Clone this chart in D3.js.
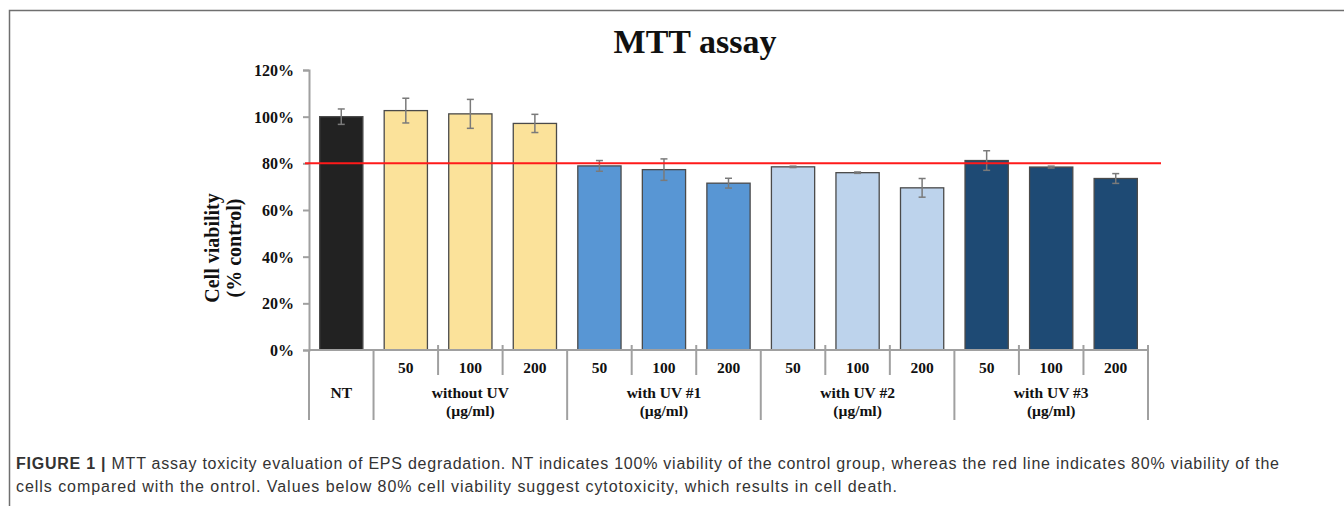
<!DOCTYPE html>
<html lang="en">
<head>
    <meta charset="UTF-8">
    <title>MTT assay</title>
    <script src="https://d3js.org/d3.v7.min.js"></script>
    <style>
        html, body { margin: 0; padding: 0; background: #fff; }
        svg { display: block; }
        .tick-label { font-family: "Liberation Serif", serif; font-weight: bold; font-size: 16px; fill: #111; }
        .caption { font-family: "Liberation Sans", Arial, sans-serif; font-size: 16px; fill: #333; }
    </style>
</head>
<body>
<svg id="chart" width="1344" height="506"></svg>
<script>
    // data
    const categories = ["NT", "wo50", "wo100", "wo200", "u1_50", "u1_100", "u1_200",
                        "u2_50", "u2_100", "u2_200", "u3_50", "u3_100", "u3_200"];
    const doseLabels = ["", "50", "100", "200", "50", "100", "200", "50", "100", "200", "50", "100", "200"];
    const viability = [100, 102.6, 101.2, 97.1, 78.9, 77.3, 71.5, 78.5, 76.0, 69.5, 81.2, 78.4, 73.5];
    const errors = [3.3, 5.3, 6.2, 3.9, 2.3, 4.6, 2.1, 0.3, 0.3, 4.0, 4.2, 0.4, 2.1];
    const groups = [
        {name: "NT", sub: null, start: 0, end: 0, color: "#222222"},
        {name: "without UV", sub: "(\u00b5g/ml)", start: 1, end: 3, color: "#fbe29a"},
        {name: "with UV #1", sub: "(\u00b5g/ml)", start: 4, end: 6, color: "#5896d4"},
        {name: "with UV #2", sub: "(\u00b5g/ml)", start: 7, end: 9, color: "#bdd3ec"},
        {name: "with UV #3", sub: "(\u00b5g/ml)", start: 10, end: 12, color: "#1e4a74"}
    ];
    const yTicks = [0, 20, 40, 60, 80, 100, 120];
    const threshold = 80;

    const svg = d3.select("#chart");

    // figure frame
    svg.append("path")
        .attr("d", "M9.5,506 L9.5,10.5 L1344,10.5")
        .attr("fill", "none")
        .attr("stroke", "#6f6f6f")
        .attr("stroke-width", 1.5);

    const plotLeft = 309, plotRight = 1148, plotTop = 70, plotBottom = 350;

    const x = d3.scaleBand().domain(categories).range([plotLeft, plotRight]).paddingInner(0.33).paddingOuter(0.165);
    const y = d3.scaleLinear().domain([0, 120]).range([plotBottom, plotTop]);
    const step = x.step();

    function groupColor(i) {
        return groups.find(g => i >= g.start && i <= g.end).color;
    }

    // title
    svg.append("text")
        .attr("x", 695).attr("y", 53)
        .attr("text-anchor", "middle")
        .style("font-family", "Liberation Serif, serif")
        .style("font-weight", "bold")
        .style("font-size", "34px")
        .attr("fill", "#111")
        .text("MTT assay");

    // y axis
    const yAxis = svg.append("g")
        .attr("transform", `translate(${plotLeft},0)`)
        .call(d3.axisLeft(y).tickValues(yTicks).tickSize(6).tickFormat(d => d + "%"));
    yAxis.attr("font-family", null).attr("font-size", null);
    yAxis.select(".domain").attr("stroke", "#a0a0a0").attr("stroke-width", 2);
    yAxis.selectAll(".tick line").attr("stroke", "#a0a0a0").attr("stroke-width", 2);
    yAxis.selectAll(".tick text")
        .attr("class", "tick-label")
        .attr("x", -15)
        .attr("dy", "0.35em");

    // y axis title
    const yTitle = svg.append("text")
        .attr("transform", `translate(219,248) rotate(-90)`)
        .attr("text-anchor", "middle")
        .style("font-family", "Liberation Serif, serif")
        .style("font-weight", "bold")
        .style("font-size", "20px")
        .attr("fill", "#111");
    yTitle.append("tspan").attr("x", 0).attr("dy", 0).text("Cell viability");
    yTitle.append("tspan").attr("x", 0).attr("dy", 22).text("(% control)");

    // bars
    svg.append("g")
        .selectAll("rect")
        .data(categories)
        .join("rect")
        .attr("x", d => x(d))
        .attr("width", x.bandwidth())
        .attr("y", (d, i) => y(viability[i]))
        .attr("height", (d, i) => y(0) - y(viability[i]))
        .attr("fill", (d, i) => groupColor(i))
        .attr("stroke", "#4a4a4a")
        .attr("stroke-width", 1.3);

    // error bars
    const eb = svg.append("g").attr("stroke", "#7a7a7a").attr("stroke-width", 1.5);
    categories.forEach((c, i) => {
        const cx = x(c) + x.bandwidth() / 2;
        const y1 = y(viability[i] + errors[i]);
        const y2 = y(viability[i] - errors[i]);
        eb.append("line").attr("x1", cx).attr("x2", cx).attr("y1", y1).attr("y2", y2);
        eb.append("line").attr("x1", cx - 3.5).attr("x2", cx + 3.5).attr("y1", y1).attr("y2", y1);
        eb.append("line").attr("x1", cx - 3.5).attr("x2", cx + 3.5).attr("y1", y2).attr("y2", y2);
    });

    // 80% threshold line
    svg.append("line")
        .attr("x1", plotLeft - 4).attr("x2", 1161)
        .attr("y1", y(threshold)).attr("y2", y(threshold))
        .attr("stroke", "#ff1a1a")
        .attr("stroke-width", 2);

    // x axis (multi-level)
    const xa = svg.append("g").attr("stroke", "#a0a0a0").attr("stroke-width", 2);
    xa.append("line").attr("x1", plotLeft).attr("x2", plotRight).attr("y1", plotBottom).attr("y2", plotBottom);
    categories.forEach((c, i) => {
        const bx = plotLeft + i * step;
        const isGroupEdge = groups.some(g => g.start === i);
        xa.append("line")
            .attr("x1", bx).attr("x2", bx)
            .attr("y1", isGroupEdge ? plotBottom : plotBottom - 5)
            .attr("y2", isGroupEdge ? 420 : 375);
    });
    xa.append("line").attr("x1", plotRight).attr("x2", plotRight).attr("y1", plotBottom - 5).attr("y2", 420);

    // dose labels
    svg.append("g")
        .selectAll("text")
        .data(categories)
        .join("text")
        .attr("class", "tick-label")
        .attr("x", d => x(d) + x.bandwidth() / 2)
        .attr("y", 373)
        .attr("text-anchor", "middle")
        .style("font-size", "15.5px")
        .text((d, i) => doseLabels[i]);

    // group labels
    groups.forEach(g => {
        const cx = (plotLeft + g.start * step + plotLeft + (g.end + 1) * step) / 2;
        svg.append("text")
            .attr("class", "tick-label")
            .attr("x", cx).attr("y", 398)
            .attr("text-anchor", "middle")
            .style("font-size", "15.5px")
            .text(g.name);
        if (g.sub) {
            svg.append("text")
                .attr("class", "tick-label")
                .attr("x", cx).attr("y", 416)
                .attr("text-anchor", "middle")
                .style("font-size", "15.5px")
                .text(g.sub);
        }
    });

    // caption
    const cap1 = svg.append("text").attr("class", "caption").attr("x", 16).attr("y", 469)
        .attr("textLength", 1263).attr("lengthAdjust", "spacing");
    cap1.append("tspan").style("font-weight", "bold").text("FIGURE 1 | ");
    cap1.append("tspan").text("MTT assay toxicity evaluation of EPS degradation. NT indicates 100% viability of the control group, whereas the red line indicates 80% viability of the");
    svg.append("text").attr("class", "caption").attr("x", 16).attr("y", 492)
        .attr("textLength", 881).attr("lengthAdjust", "spacing")
        .text("cells compared with the ontrol. Values below 80% cell viability suggest cytotoxicity, which results in cell death.");
</script>
</body>
</html>
